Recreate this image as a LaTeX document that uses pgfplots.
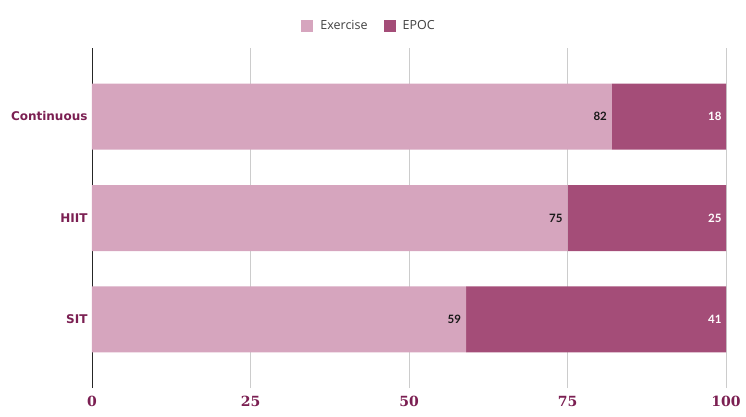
\documentclass[border=0pt]{standalone}
\usepackage{fontspec}
\usepackage{pgfplots}
\usepackage{pgfplotstable}
\pgfplotsset{compat=1.18}
\setmainfont{Open Sans}
\newfontfamily\ylabfont{DejaVu Sans}
\newfontfamily\xlabfont{DejaVu Serif}
\newfontfamily\valfont{Lato}
\definecolor{exc}{HTML}{D6A5BE}
\definecolor{epoc}{HTML}{A44D78}
\definecolor{labc}{HTML}{7B1F52}
\pgfplotstableread{
pos exc epoc
0   59  41
1   75  25
2   82  18
}\datatable
\begin{document}
\begin{tikzpicture}[x=1pt,y=1pt]
\path[use as bounding box] (-92,-28) rectangle (654,388);
\begin{axis}[
  at={(0,0)}, anchor=south west,
  scale only axis, width=634pt, height=340pt,
  xbar stacked, bar width=66pt,
  xmin=0, xmax=100, ymin=-0.675, ymax=2.675,
  ytick={0,1,2}, yticklabels={SIT,HIIT,Continuous},
  xtick={0,25,50,75,100},
  /pgf/number format/assume math mode=true,
  xmajorgrids, grid style={draw=black!20, line width=0.8pt},
  axis x line*=bottom, axis y line*=left,
  axis line style={-},
  x axis line style={draw=none},
  y axis line style={draw=black!85, line width=0.9pt},
  major tick length=0pt,
  xticklabel style={font=\xlabfont\bfseries\fontsize{14}{16}\selectfont, text=labc, yshift=-5pt},
  yticklabel style={font=\ylabfont\bfseries\fontsize{12}{14}\selectfont, text=labc, xshift=-1pt},
  legend style={at={(0.437,1.065)}, anchor=center, draw=none, legend columns=2,
    font=\fontsize{12.5}{14}\selectfont, text=black!75,
    /tikz/every odd column/.append style={column sep=5pt},
    /tikz/every even column/.append style={column sep=14pt}},
  legend image code/.code={\fill[#1] (0pt,-6pt) rectangle (12pt,6pt);},
]
\addplot[fill=exc, draw=none, nodes near coords,
  visualization depends on={\thisrow{exc} \as \segv},
  nodes near coords style={anchor=east, xshift={\segv*3.17pt-1.5pt}, text=black!90, font=\valfont\bfseries\fontsize{11.5}{14}\selectfont}]
  table[x=exc, y=pos] {\datatable};
\addplot[fill=epoc, draw=none, nodes near coords,
  visualization depends on={\thisrow{epoc} \as \segv},
  nodes near coords style={anchor=east, xshift={\segv*3.17pt-1pt}, text=white, font=\valfont\bfseries\fontsize{11.5}{14}\selectfont}]
  table[x=epoc, y=pos] {\datatable};
\legend{Exercise, EPOC}
\end{axis}
\end{tikzpicture}
\end{document}
